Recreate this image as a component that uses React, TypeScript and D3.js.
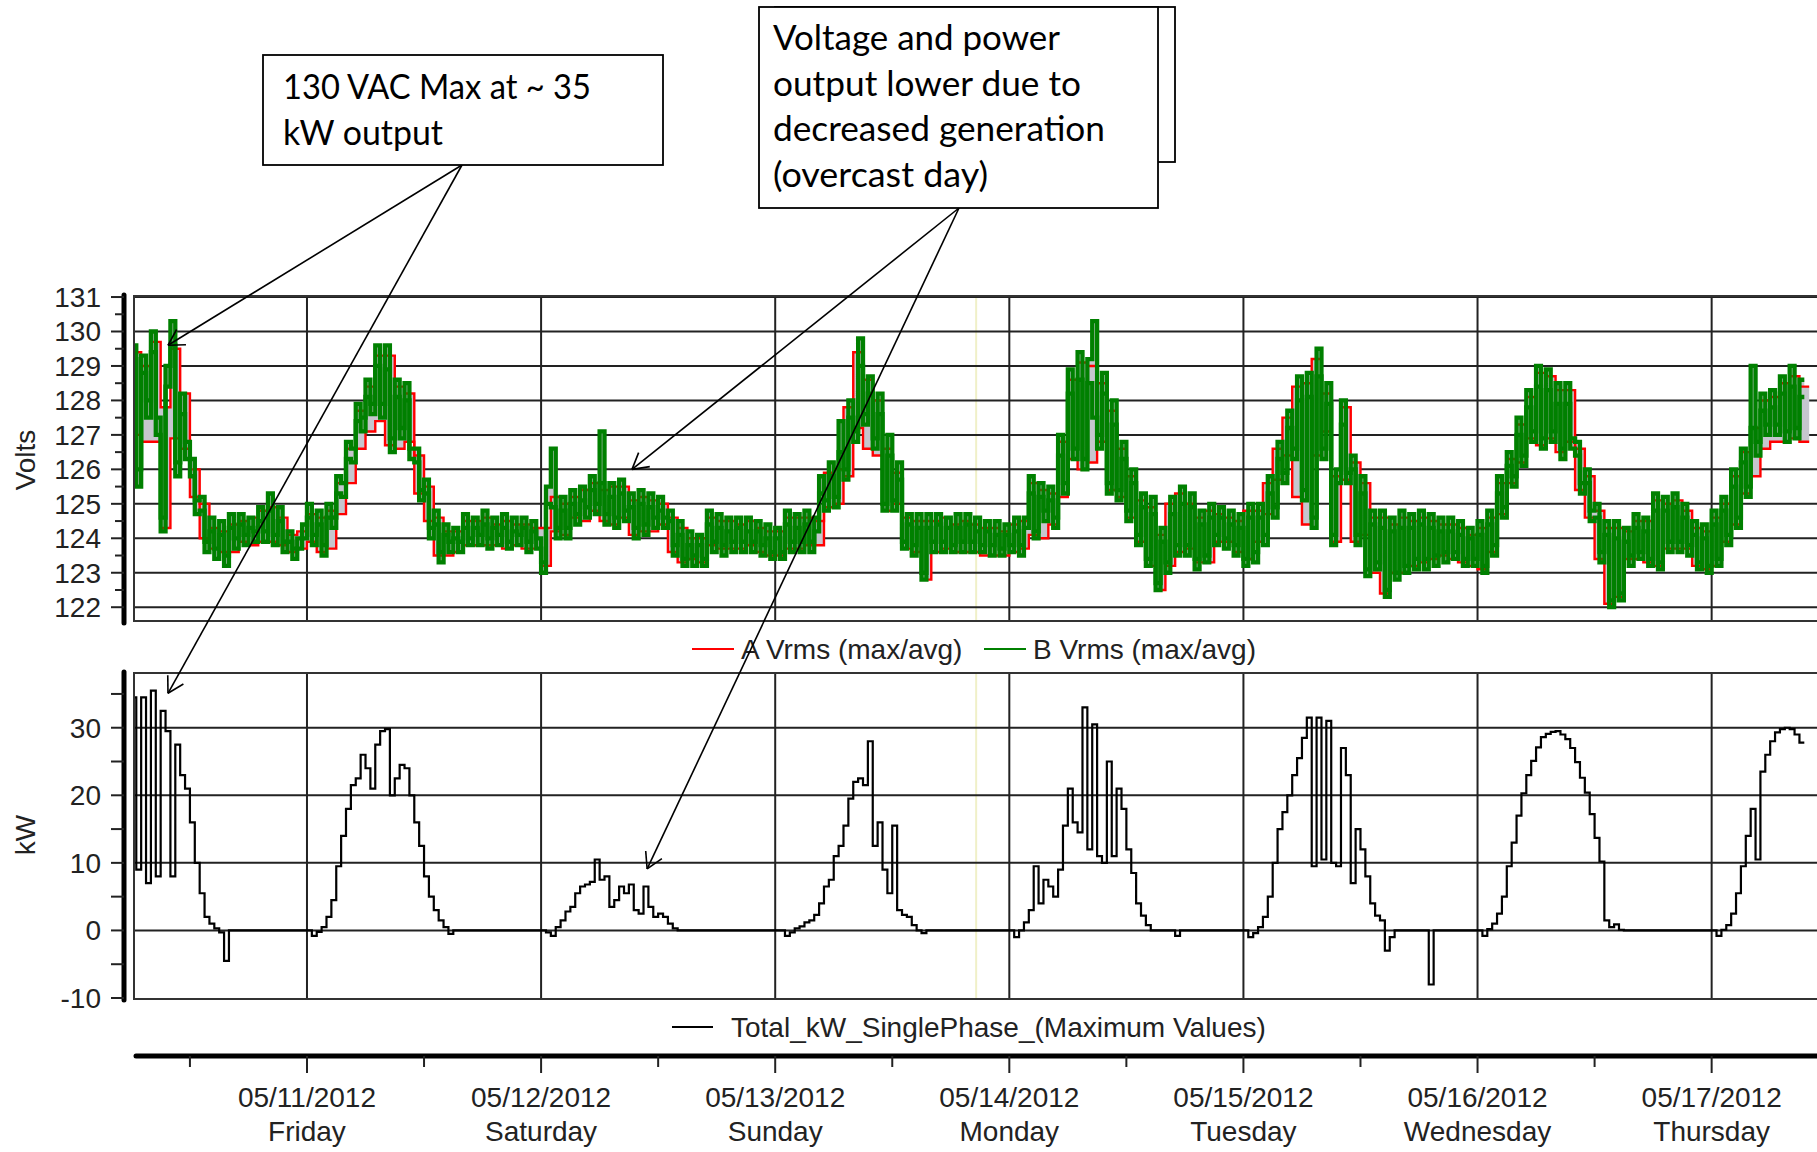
import React, { useEffect, useRef } from 'react';
import * as d3 from 'd3';

// May 2012, one row per day. Voltage / kW samples every 30 min, A phase hourly.
const dayDates = [10, 11, 12, 13, 14, 15, 16, 17];
const dayStartHour = [6, 0, 0, 0, 0, 0, 0, 0];

const tickDates = ['05/11/2012', '05/12/2012', '05/13/2012', '05/14/2012', '05/15/2012', '05/16/2012', '05/17/2012'];
const tickDays = ['Friday', 'Saturday', 'Sunday', 'Monday', 'Tuesday', 'Wednesday', 'Thursday'];
const voltTicks = [122, 123, 124, 125, 126, 127, 128, 129, 130, 131];
const kwTicks = [-10, 0, 10, 20, 30];
const kwMinorTicks = [-5, 5, 15, 25, 35];

// B Vrms max (30 min)
const bMaxByDay = [
  [129.6, 126.0, 129.3, 128.0, 130.0, 127.5, 124.6, 129.0, 130.3, 126.2, 128.2, 126.8, 126.3, 125.1, 125.2, 123.9, 124.6, 123.7, 124.5, 123.5, 124.7, 124.0, 124.7, 124.1, 124.6, 124.2, 124.9, 124.2, 125.3, 124.1, 124.9, 123.9, 124.2, 123.7, 124.0, 124.4],
  [125.0, 124.1, 124.8, 123.8, 125.0, 124.6, 125.8, 125.6, 126.8, 126.6, 127.9, 127.5, 128.6, 127.9, 129.6, 127.9, 129.6, 126.9, 128.6, 127.2, 128.5, 126.6, 126.6, 125.4, 125.7, 124.3, 124.8, 123.6, 124.4, 123.9, 124.3, 123.9, 124.7, 124.0, 124.6, 124.1, 124.8, 124.0, 124.6, 124.1, 124.7, 123.9, 124.6, 124.1, 124.6, 123.9, 124.5, 124.0],
  [123.3, 125.5, 126.6, 124.3, 125.2, 124.3, 125.4, 124.7, 125.5, 124.9, 125.8, 125.0, 127.1, 124.7, 125.6, 124.6, 125.7, 124.8, 125.3, 124.3, 125.4, 124.4, 125.3, 124.6, 125.2, 124.6, 124.8, 123.8, 124.5, 123.4, 124.2, 123.5, 124.1, 123.4, 124.8, 123.9, 124.7, 123.8, 124.6, 123.9, 124.6, 123.9, 124.6, 123.9, 124.5, 123.8, 124.4, 123.6],
  [124.3, 123.6, 124.8, 123.9, 124.7, 123.9, 124.8, 123.9, 124.6, 125.8, 125.1, 126.2, 125.2, 127.4, 126.0, 128.0, 127.1, 129.8, 127.6, 128.7, 126.9, 128.2, 125.0, 127.0, 125.1, 126.2, 123.9, 124.7, 123.8, 124.7, 123.0, 124.7, 123.9, 124.7, 123.9, 124.6, 123.8, 124.7, 123.9, 124.7, 123.9, 124.6, 123.8, 124.5, 123.8, 124.5, 123.7, 124.4],
  [123.8, 124.6, 123.8, 124.6, 125.8, 124.2, 125.6, 124.8, 125.5, 124.6, 127.0, 125.6, 128.9, 126.6, 129.4, 126.3, 129.2, 130.3, 127.0, 128.8, 125.6, 128.0, 125.4, 126.8, 124.8, 126.0, 124.1, 125.3, 123.4, 125.2, 122.7, 124.3, 123.3, 125.2, 123.8, 125.5, 123.8, 125.3, 123.4, 124.8, 123.5, 125.0, 124.1, 124.9, 124.0, 124.8, 123.8, 124.7],
  [123.4, 125.0, 123.6, 125.0, 124.1, 125.8, 124.9, 126.8, 125.9, 127.7, 126.6, 128.7, 125.4, 128.8, 124.6, 129.5, 126.6, 128.5, 124.1, 126.0, 128.0, 125.9, 126.4, 124.1, 125.8, 123.1, 124.8, 123.3, 124.8, 122.5, 124.6, 123.0, 124.8, 123.2, 124.7, 123.4, 124.8, 123.4, 124.7, 123.5, 124.6, 123.6, 124.6, 123.6, 124.5, 123.4, 124.3, 123.4],
  [124.5, 123.2, 124.8, 123.8, 125.8, 124.9, 126.5, 125.8, 127.5, 126.4, 128.3, 127.1, 129.0, 126.9, 128.9, 127.1, 128.5, 126.6, 128.5, 126.9, 126.8, 125.6, 126.0, 124.8, 125.0, 123.6, 124.5, 122.2, 124.5, 122.4, 124.3, 123.5, 124.7, 123.6, 124.6, 123.4, 125.3, 123.3, 125.2, 123.9, 125.3, 123.9, 125.0, 123.8, 124.5, 123.3, 124.4, 123.2],
  [124.8, 123.4, 125.2, 124.1, 126.0, 124.6, 126.6, 125.5, 129.0, 126.8, 128.2, 127.3, 128.3, 127.3, 128.7, 127.1, 129.0, 127.2, 128.6],
];

// B Vrms avg (30 min)
const bAvgByDay = [
  [129.2, 125.5, 128.8, 127.5, 129.4, 127.0, 124.2, 128.4, 129.6, 125.8, 127.6, 126.3, 125.8, 124.7, 124.8, 123.6, 124.2, 123.4, 124.1, 123.2, 124.3, 123.7, 124.4, 123.8, 124.3, 123.9, 124.5, 123.9, 124.8, 123.8, 124.5, 123.6, 123.9, 123.4, 123.7, 124.0],
  [124.6, 123.8, 124.4, 123.5, 124.6, 124.3, 125.3, 125.2, 126.3, 126.2, 127.4, 127.1, 128.1, 127.6, 129.0, 127.5, 128.9, 126.5, 128.1, 126.9, 128.0, 126.3, 126.2, 125.1, 125.3, 124.0, 124.4, 123.3, 124.1, 123.6, 124.0, 123.6, 124.3, 123.8, 124.3, 123.8, 124.4, 123.7, 124.3, 123.8, 124.3, 123.7, 124.2, 123.8, 124.3, 123.6, 124.2, 123.7],
  [123.0, 125.0, 124.9, 124.0, 124.8, 124.0, 125.0, 124.4, 125.1, 124.6, 125.4, 124.7, 125.6, 124.4, 125.2, 124.3, 125.3, 124.5, 124.9, 124.0, 125.0, 124.1, 124.9, 124.3, 124.8, 124.3, 124.5, 123.5, 124.1, 123.2, 123.8, 123.2, 123.8, 123.2, 124.4, 123.6, 124.3, 123.5, 124.2, 123.6, 124.3, 123.6, 124.2, 123.6, 124.2, 123.5, 124.0, 123.4],
  [124.0, 123.4, 124.4, 123.6, 124.3, 123.6, 124.4, 123.6, 124.2, 125.3, 124.8, 125.8, 124.9, 126.5, 125.7, 127.5, 126.8, 129.0, 127.3, 128.2, 126.6, 127.6, 124.8, 126.4, 124.8, 125.7, 123.7, 124.4, 123.5, 124.3, 122.8, 124.3, 123.6, 124.4, 123.6, 124.3, 123.6, 124.3, 123.6, 124.4, 123.6, 124.2, 123.6, 124.2, 123.5, 124.1, 123.5, 124.1],
  [123.6, 124.2, 123.5, 124.3, 125.3, 124.0, 125.2, 124.5, 125.1, 124.3, 126.4, 125.3, 128.2, 126.3, 128.6, 126.0, 128.5, 127.5, 126.6, 128.2, 125.3, 127.3, 125.1, 126.3, 124.5, 125.6, 123.8, 124.9, 123.2, 124.7, 122.5, 123.9, 123.0, 124.7, 123.5, 125.0, 123.5, 124.9, 123.1, 124.4, 123.3, 124.6, 123.8, 124.6, 123.7, 124.4, 123.5, 124.3],
  [123.2, 124.6, 123.3, 124.6, 123.8, 125.3, 124.6, 126.3, 125.6, 127.2, 126.3, 128.0, 125.1, 128.1, 124.3, 128.7, 126.3, 127.9, 123.8, 125.6, 127.3, 125.6, 126.0, 123.8, 125.3, 122.9, 124.4, 123.1, 124.3, 122.3, 124.2, 122.8, 124.3, 123.0, 124.3, 123.1, 124.4, 123.1, 124.3, 123.2, 124.2, 123.3, 124.2, 123.4, 124.1, 123.2, 124.0, 123.2],
  [124.1, 123.0, 124.4, 123.5, 125.3, 124.6, 126.1, 125.5, 127.0, 126.1, 127.8, 126.8, 128.4, 126.6, 128.3, 126.8, 127.9, 126.3, 127.9, 126.6, 126.4, 125.3, 125.6, 124.5, 124.6, 123.3, 124.1, 122.0, 124.0, 122.2, 123.9, 123.2, 124.3, 123.4, 124.2, 123.2, 124.8, 123.1, 124.8, 123.6, 124.9, 123.6, 124.6, 123.5, 124.1, 123.1, 124.0, 123.0],
  [124.4, 123.2, 124.8, 123.8, 125.5, 124.3, 126.2, 125.2, 127.2, 126.4, 127.7, 127.0, 127.8, 127.0, 128.2, 126.8, 128.4, 126.9, 128.1],
];

// A Vrms max / avg (hourly)
const aMaxByDay = [
  [129.4, 129.0, 129.7, 127.8, 129.5, 128.2, 126.0, 125.0, 124.3, 124.2, 124.4, 124.5, 124.6, 124.8, 124.9, 124.6, 124.1, 124.2],
  [124.7, 124.6, 124.8, 125.6, 126.6, 127.7, 128.4, 129.3, 129.3, 128.4, 128.2, 126.4, 125.5, 124.6, 124.2, 124.2, 124.5, 124.5, 124.6, 124.4, 124.5, 124.4, 124.4, 124.3],
  [124.3, 125.2, 125.0, 125.2, 125.4, 125.6, 125.4, 125.5, 125.5, 125.1, 125.2, 125.1, 125.0, 124.6, 124.3, 124.0, 124.0, 124.6, 124.5, 124.5, 124.4, 124.5, 124.3, 124.2],
  [124.2, 124.6, 124.6, 124.6, 124.5, 125.9, 126.0, 127.8, 129.4, 128.6, 128.0, 126.6, 125.9, 124.6, 124.5, 124.5, 124.5, 124.6, 124.4, 124.5, 124.4, 124.3, 124.3, 124.2],
  [124.4, 124.5, 125.6, 125.4, 125.3, 126.8, 128.6, 129.1, 129.0, 128.5, 127.7, 126.6, 125.8, 125.1, 124.9, 124.1, 125.0, 125.3, 125.0, 124.6, 124.8, 124.7, 124.6, 124.5],
  [124.8, 124.8, 125.6, 126.6, 127.5, 128.4, 128.5, 129.2, 128.2, 125.8, 127.8, 126.2, 125.6, 124.6, 124.6, 124.4, 124.6, 124.5, 124.6, 124.5, 124.4, 124.4, 124.3, 124.1],
  [124.3, 124.6, 125.6, 126.3, 127.3, 128.1, 128.8, 128.7, 128.3, 128.3, 126.6, 125.8, 124.8, 124.3, 124.3, 124.2, 124.5, 124.5, 125.1, 125.0, 125.1, 124.8, 124.3, 124.2],
  [124.6, 125.0, 125.8, 126.5, 127.2, 128.0, 128.1, 128.5, 128.7, 128.4],
];
const aAvgByDay = [
  [127.0, 126.8, 126.8, 124.3, 126.9, 126.6, 125.2, 124.0, 123.7, 123.6, 123.6, 123.9, 123.8, 123.9, 123.9, 123.8, 123.6, 123.7],
  [123.9, 123.6, 123.7, 124.7, 125.6, 126.6, 127.1, 127.4, 126.7, 126.6, 126.8, 125.3, 124.5, 123.5, 123.5, 123.6, 123.8, 123.8, 123.8, 123.8, 123.7, 123.8, 123.7, 123.7],
  [123.2, 124.2, 124.1, 124.6, 124.5, 124.8, 124.5, 124.4, 124.6, 124.1, 124.2, 124.2, 124.4, 123.6, 123.3, 123.4, 123.3, 123.8, 123.7, 123.7, 123.7, 123.8, 123.6, 123.5],
  [123.5, 123.7, 123.7, 123.8, 123.8, 124.9, 125.0, 125.8, 127.2, 126.6, 126.4, 124.8, 125.0, 123.7, 123.6, 122.8, 123.6, 123.7, 123.6, 123.6, 123.6, 123.5, 123.5, 123.5],
  [123.6, 123.7, 124.1, 124.0, 124.4, 125.2, 126.3, 126.0, 126.2, 126.8, 125.4, 125.2, 124.6, 123.9, 123.2, 122.5, 123.2, 123.6, 123.7, 123.3, 123.3, 123.9, 123.9, 123.6],
  [123.4, 123.9, 124.7, 125.7, 126.4, 125.2, 124.4, 126.4, 127.1, 123.9, 125.7, 123.9, 124.1, 123.0, 122.4, 123.0, 123.0, 123.2, 123.3, 123.4, 123.5, 123.4, 123.3, 123.2],
  [123.1, 123.6, 124.7, 125.6, 126.2, 126.9, 126.7, 126.9, 126.5, 126.8, 125.4, 124.6, 123.4, 122.1, 122.3, 123.4, 123.4, 123.3, 123.2, 123.7, 123.7, 123.7, 123.2, 123.1],
  [123.2, 123.9, 124.4, 125.3, 125.8, 126.6, 126.8, 126.8, 126.9, 126.8],
];

// Total kW single phase, maximum values (30 min)
const kwByDay = [
  [34.5, 9, 34.5, 7, 35.5, 8, 32.5, 29.5, 8, 27.5, 23, 21, 16, 10, 5.5, 2, 1, 0.3, -0.3, -4.5, 0, 0, 0, 0, 0, 0, 0, 0, 0, 0, 0, 0, 0, 0, 0, 0],
  [0, -0.8, -0.2, 0.5, 2, 4.5, 9.5, 14, 18, 21.5, 22.5, 26, 24, 21, 27.5, 29.5, 29.8, 20, 22.5, 24.5, 24, 20, 16, 12.5, 8, 5, 3, 1.5, 0.5, -0.5, 0, 0, 0, 0, 0, 0, 0, 0, 0, 0, 0, 0, 0, 0, 0, 0, 0, 0],
  [0, -0.3, -0.8, 0.5, 1.5, 2.8, 3.5, 5.5, 6.5, 6.8, 7.2, 10.5, 7.5, 8, 3.5, 4.5, 6.5, 5.5, 6.8, 3, 2.5, 6.5, 3.5, 2, 2.5, 2, 1, 0.3, 0, 0, 0, 0, 0, 0, 0, 0, 0, 0, 0, 0, 0, 0, 0, 0, 0, 0, 0, 0],
  [0, 0, -0.8, -0.3, 0.3, 0.6, 1.2, 1.5, 2.3, 4, 6.5, 7.5, 11, 12.5, 15.5, 19.5, 22, 22.5, 21.5, 28, 12.5, 16, 9, 5.5, 15.5, 3, 2.3, 2, 0.8, 0, -0.4, 0, 0, 0, 0, 0, 0, 0, 0, 0, 0, 0, 0, 0, 0, 0, 0, 0],
  [0, -1, 0, 1.2, 3, 9.5, 4, 7.5, 6.5, 5, 9, 15.5, 21, 16, 14.5, 33, 12, 30.5, 11, 10, 25, 11, 21, 18, 12, 8.5, 4, 2.2, 0.8, 0, 0, 0, 0, 0, -0.8, 0, 0, 0, 0, 0, 0, 0, 0, 0, 0, 0, 0, 0],
  [0, -1, -0.4, 0.5, 2, 5, 10, 15, 17.5, 20, 23, 25.5, 28.5, 31.5, 9.5, 31.5, 10.5, 31, 10, 9.5, 27, 23, 7, 15, 12, 8, 4, 2.2, 1.5, -3, -1, 0, 0, 0, 0, 0, 0, 0, -8, 0, 0, 0, 0, 0, 0, 0, 0, 0],
  [0, -0.8, 0.2, 1, 2.5, 5, 9.5, 13, 17, 20.3, 23, 25.1, 27.1, 28.6, 29.1, 29.4, 29.5, 29, 28.3, 27, 24.9, 22.6, 20.4, 17.2, 13.7, 10.2, 1.5, 0.5, 0.9, 0.1, 0, 0, 0, 0, 0, 0, 0, 0, 0, 0, 0, 0, 0, 0, 0, 0, 0, 0],
  [0, -0.8, 0.1, 0.8, 2.5, 5.5, 9.5, 14, 18, 10.5, 23.5, 26, 28, 29.3, 29.8, 30, 29.8, 29, 27.8],
];

const note1Lines = ['130 VAC Max at ~ 35', 'kW output'];
const note2Lines = ['Voltage and power', 'output lower due to', 'decreased generation', '(overcast day)'];

const FONT = 'Liberation Sans, Arial, sans-serif';
const NOTE_FONT = 'Lato, Carlito, Calibri, sans-serif';

type Pt = { t: Date; v: number };

const at = (d: number, h: number) => new Date(Date.UTC(2012, 4, dayDates[d]) + h * 3600e3);

const buildSeries = (byDay: number[][], stepH: number): Pt[] => {
  const out: Pt[] = [];
  byDay.forEach((vals, d) => vals.forEach((v, i) => out.push({ t: at(d, dayStartHour[d] + i * stepH), v })));
  const last = out[out.length - 1];
  out.push({ t: new Date(+last.t + stepH * 3600e3), v: last.v });
  return out;
};

const App = () => {
  const svgRef = useRef<SVGSVGElement>(null);

  useEffect(() => {
    const svg = d3.select(svgRef.current);
    svg.selectAll('*').remove();

    const left = 134, right = 1817;
    const vTop = 296, vBot = 621, kTop = 673, kBot = 999;

    const x = d3.scaleUtc()
      .domain([new Date(Date.UTC(2012, 4, 10, 6, 16)), new Date(Date.UTC(2012, 4, 17, 10, 48))])
      .range([left, right]);
    const yV = d3.scaleLinear().domain([121.6, 131.03]).range([vBot, vTop]);
    const yK = d3.scaleLinear().domain([-10, 38.1]).range([kBot - 1, kTop]);

    const days = d3.utcDay.range(new Date(Date.UTC(2012, 4, 11)), new Date(Date.UTC(2012, 4, 18)));
    const noons = d3.utcHour.every(12)!.range(new Date(Date.UTC(2012, 4, 10, 12)), x.domain()[1])
      .filter(d => d.getUTCHours() === 12);

    svg.append('rect').attr('width', 1817).attr('height', 1152).attr('fill', '#fff');

    const defs = svg.append('defs');
    defs.append('clipPath').attr('id', 'clipV').append('rect')
      .attr('x', left).attr('y', vTop).attr('width', right - left).attr('height', vBot - vTop);
    defs.append('clipPath').attr('id', 'clipK').append('rect')
      .attr('x', left).attr('y', kTop).attr('width', right - left).attr('height', kBot - kTop);

    const cursor = new Date(Date.UTC(2012, 4, 13, 20, 36));

    // ---------- Volts panel ----------
    const gV = svg.append('g');
    gV.append('line').attr('x1', x(cursor)).attr('x2', x(cursor)).attr('y1', vTop).attr('y2', vBot)
      .attr('stroke', '#f0f0c8').attr('stroke-width', 2);
    gV.selectAll('.hg').data(voltTicks).enter().append('line')
      .attr('x1', left).attr('x2', right).attr('y1', d => yV(d)).attr('y2', d => yV(d))
      .attr('stroke', '#222').attr('stroke-width', 2);
    gV.selectAll('.vg').data(days).enter().append('line')
      .attr('x1', d => x(d)).attr('x2', d => x(d)).attr('y1', vTop).attr('y2', vBot)
      .attr('stroke', '#222').attr('stroke-width', 2);

    const bMax = buildSeries(bMaxByDay, 0.5);
    const bAvg = buildSeries(bAvgByDay, 0.5);
    const aMax = buildSeries(aMaxByDay, 1);
    const aAvg = buildSeries(aAvgByDay, 1);
    const bBand = bMax.map((d, i) => ({ t: d.t, hi: d.v, lo: bAvg[i].v }));
    const aBand = aMax.map((d, i) => ({ t: d.t, hi: d.v, lo: aAvg[i].v }));

    const area = d3.area<{ t: Date; hi: number; lo: number }>()
      .x(d => x(d.t)).y0(d => yV(d.lo)).y1(d => yV(d.hi)).curve(d3.curveStepAfter);
    const lineV = d3.line<Pt>().x(d => x(d.t)).y(d => yV(d.v)).curve(d3.curveStepAfter);

    const data = gV.append('g').attr('clip-path', 'url(#clipV)');
    data.append('path').attr('d', area(aBand)).attr('fill', '#c6c6ce');
    data.append('path').attr('d', area(bBand)).attr('fill', '#c6c6ce');
    [aMax, aAvg].forEach(s => data.append('path').attr('d', lineV(s))
      .attr('fill', 'none').attr('stroke', '#ff0000').attr('stroke-width', 2.4));
    [bMax, bAvg].forEach(s => data.append('path').attr('d', lineV(s))
      .attr('fill', 'none').attr('stroke', '#008000').attr('stroke-width', 4.3));

    gV.append('rect').attr('x', left).attr('y', vTop).attr('width', right - left + 10).attr('height', vBot - vTop)
      .attr('fill', 'none').attr('stroke', '#333').attr('stroke-width', 2);

    // volts axis
    gV.append('line').attr('x1', 124).attr('x2', 124).attr('y1', vTop - 1).attr('y2', vBot + 2)
      .attr('stroke', '#000').attr('stroke-width', 5).attr('stroke-linecap', 'round');
    gV.selectAll('.vt').data(voltTicks).enter().append('line')
      .attr('x1', 111).attr('x2', 124).attr('y1', d => yV(d)).attr('y2', d => yV(d))
      .attr('stroke', '#222').attr('stroke-width', 2);
    gV.selectAll('.vm').data(voltTicks.slice(0, -1)).enter().append('line')
      .attr('x1', 115).attr('x2', 124).attr('y1', d => yV(d + 0.5)).attr('y2', d => yV(d + 0.5))
      .attr('stroke', '#222').attr('stroke-width', 2);
    gV.selectAll('.vl').data(voltTicks).enter().append('text')
      .attr('x', 101).attr('y', d => yV(d) + 10).attr('text-anchor', 'end')
      .attr('font-family', FONT).attr('font-size', 28).attr('fill', '#222').text(d => d);
    gV.append('text').attr('transform', 'translate(35,460) rotate(-90)').attr('text-anchor', 'middle')
      .attr('font-family', FONT).attr('font-size', 28).attr('fill', '#222').text('Volts');

    // legend 1
    const leg1 = [{ c: '#ff0000', x: 692, label: 'A Vrms (max/avg)' }, { c: '#008000', x: 984, label: 'B Vrms (max/avg)' }];
    leg1.forEach(l => {
      svg.append('line').attr('x1', l.x).attr('x2', l.x + 42).attr('y1', 649).attr('y2', 649)
        .attr('stroke', l.c).attr('stroke-width', 2);
      svg.append('text').attr('x', l.x + 49).attr('y', 659).attr('font-family', FONT)
        .attr('font-size', 28).attr('fill', '#222').text(l.label);
    });

    // ---------- kW panel ----------
    const gK = svg.append('g');
    gK.append('line').attr('x1', x(cursor)).attr('x2', x(cursor)).attr('y1', kTop).attr('y2', kBot)
      .attr('stroke', '#f0f0c8').attr('stroke-width', 2);
    gK.selectAll('.hg').data(kwTicks.slice(1)).enter().append('line')
      .attr('x1', left).attr('x2', right).attr('y1', d => yK(d)).attr('y2', d => yK(d))
      .attr('stroke', '#222').attr('stroke-width', 2);
    gK.selectAll('.vg').data(days).enter().append('line')
      .attr('x1', d => x(d)).attr('x2', d => x(d)).attr('y1', kTop).attr('y2', kBot)
      .attr('stroke', '#222').attr('stroke-width', 2);

    const kw = buildSeries(kwByDay, 0.5);
    const lineK = d3.line<Pt>().x(d => x(d.t)).y(d => yK(d.v)).curve(d3.curveStepAfter);
    gK.append('g').attr('clip-path', 'url(#clipK)').append('path').attr('d', lineK(kw))
      .attr('fill', 'none').attr('stroke', '#000').attr('stroke-width', 2.2);

    gK.append('rect').attr('x', left).attr('y', kTop).attr('width', right - left + 10).attr('height', kBot - kTop)
      .attr('fill', 'none').attr('stroke', '#333').attr('stroke-width', 2);

    gK.append('line').attr('x1', 124).attr('x2', 124).attr('y1', kTop - 1).attr('y2', kBot + 1)
      .attr('stroke', '#000').attr('stroke-width', 5).attr('stroke-linecap', 'round');
    gK.selectAll('.kt').data([...kwTicks, ...kwMinorTicks]).enter().append('line')
      .attr('x1', 111).attr('x2', 124).attr('y1', d => yK(d)).attr('y2', d => yK(d))
      .attr('stroke', '#222').attr('stroke-width', 2);
    gK.selectAll('.kl').data(kwTicks).enter().append('text')
      .attr('x', 101).attr('y', d => yK(d) + 10).attr('text-anchor', 'end')
      .attr('font-family', FONT).attr('font-size', 28).attr('fill', '#222').text(d => d);
    gK.append('text').attr('transform', 'translate(35,835) rotate(-90)').attr('text-anchor', 'middle')
      .attr('font-family', FONT).attr('font-size', 28).attr('fill', '#222').text('kW');

    // legend 2
    svg.append('line').attr('x1', 672).attr('x2', 713).attr('y1', 1027).attr('y2', 1027)
      .attr('stroke', '#000').attr('stroke-width', 2);
    svg.append('text').attr('x', 731).attr('y', 1037).attr('font-family', FONT)
      .attr('font-size', 28).attr('fill', '#222').text('Total_kW_SinglePhase_(Maximum Values)');

    // ---------- time axis ----------
    const gT = svg.append('g');
    gT.append('line').attr('x1', left + 2).attr('x2', right + 5).attr('y1', 1056).attr('y2', 1056)
      .attr('stroke', '#000').attr('stroke-width', 5).attr('stroke-linecap', 'round');
    gT.selectAll('.mt').data(days).enter().append('line')
      .attr('x1', d => x(d)).attr('x2', d => x(d)).attr('y1', 1056).attr('y2', 1073)
      .attr('stroke', '#222').attr('stroke-width', 2);
    gT.selectAll('.nt').data(noons).enter().append('line')
      .attr('x1', d => x(d)).attr('x2', d => x(d)).attr('y1', 1056).attr('y2', 1067)
      .attr('stroke', '#222').attr('stroke-width', 2);
    gT.selectAll('.dl').data(days).enter().append('text')
      .attr('x', d => x(d)).attr('y', 1107).attr('text-anchor', 'middle')
      .attr('font-family', FONT).attr('font-size', 28).attr('fill', '#222').text((d, i) => tickDates[i]);
    gT.selectAll('.wl').data(days).enter().append('text')
      .attr('x', d => x(d)).attr('y', 1141).attr('text-anchor', 'middle')
      .attr('font-family', FONT).attr('font-size', 28).attr('fill', '#222').text((d, i) => tickDays[i]);

    // ---------- call-outs ----------
    const gN = svg.append('g');
    const arrow = (x0: number, y0: number, x1: number, y1: number) => {
      gN.append('line').attr('x1', x0).attr('y1', y0).attr('x2', x1).attr('y2', y1)
        .attr('stroke', '#000').attr('stroke-width', 1.6);
      const a = Math.atan2(y0 - y1, x0 - x1);
      [-0.52, 0.52].forEach(da => {
        gN.append('line').attr('x1', x1).attr('y1', y1)
          .attr('x2', x1 + 18 * Math.cos(a + da)).attr('y2', y1 + 18 * Math.sin(a + da))
          .attr('stroke', '#000').attr('stroke-width', 1.6);
      });
    };
    const noteText = (lines: string[], widths: number[], x0: number, y0: number) => {
      lines.forEach((s, i) => gN.append('text').attr('x', x0).attr('y', y0 + i * 45.5)
        .attr('font-family', NOTE_FONT).attr('font-size', 35).attr('fill', '#000')
        .attr('textLength', widths[i]).attr('lengthAdjust', 'spacingAndGlyphs').text(s));
    };

    const t1 = at(0, 9.75);
    arrow(462, 165, x(t1), yV(129.6));
    arrow(462, 165, x(t1), yK(35.1));
    const t2v = at(2, 9.32), t2k = at(2, 10.87);
    arrow(959, 208, x(t2v), yV(126.0));
    arrow(959, 208, x(t2k), yK(9.1));

    gN.append('rect').attr('x', 263).attr('y', 55).attr('width', 400).attr('height', 110)
      .attr('fill', '#fff').attr('stroke', '#000').attr('stroke-width', 1.8);
    noteText(note1Lines, [308, 160], 283, 99);

    gN.append('rect').attr('x', 775).attr('y', 7).attr('width', 400).attr('height', 155)
      .attr('fill', '#fff').attr('stroke', '#000').attr('stroke-width', 1.8);
    gN.append('rect').attr('x', 759).attr('y', 7).attr('width', 399).attr('height', 201)
      .attr('fill', '#fff').attr('stroke', '#000').attr('stroke-width', 1.8);
    noteText(note2Lines, [287, 308, 332, 215], 773, 50);
  }, []);

  return (
    <svg ref={svgRef} width={1817} height={1152}
      style={{ position: 'absolute', left: 0, top: 0, display: 'block' }} />
  );
};

export default App;
